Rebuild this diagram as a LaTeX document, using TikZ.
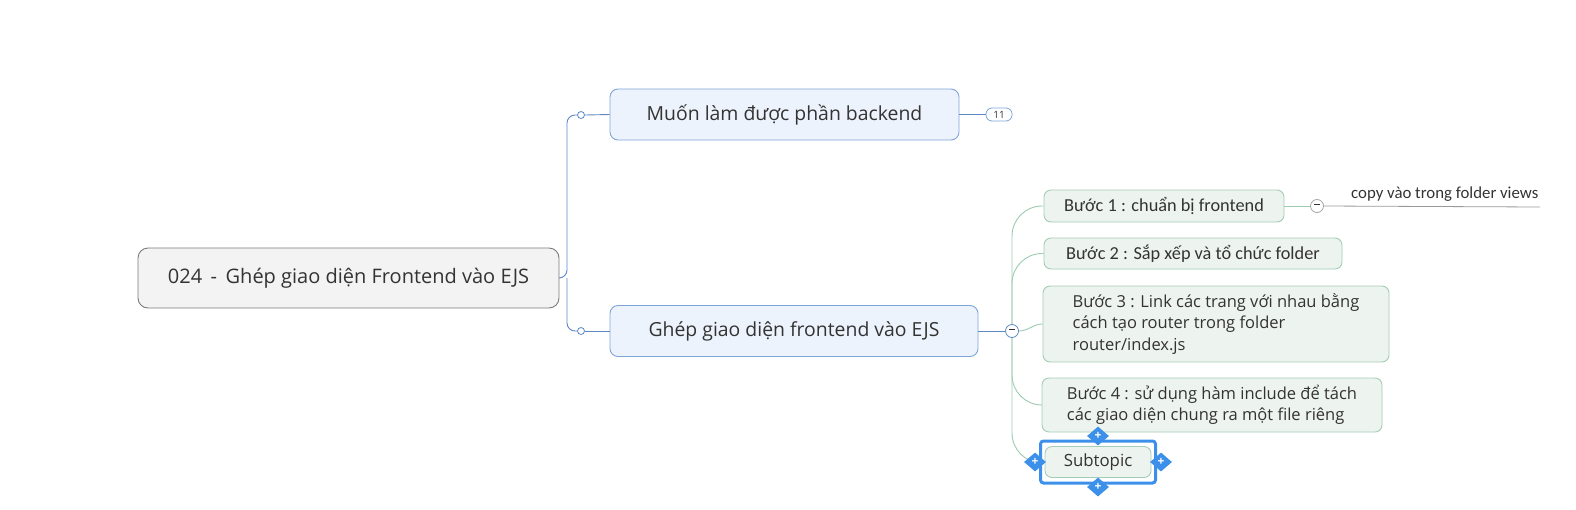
\documentclass[tikz,border=0pt]{standalone}
\usepackage{fontspec}
\setmainfont{Open Sans}
\newfontfamily\calfont{Carlito}
\usetikzlibrary{positioning,shapes.geometric}

\definecolor{rootfill}{HTML}{F3F3F3}
\definecolor{rootline}{HTML}{7A7A7A}
\definecolor{mainfill}{HTML}{EDF3FC}
\definecolor{mainline}{HTML}{7FA5D8}
\definecolor{mainedge}{HTML}{5C88C6}
\definecolor{subfill}{HTML}{EDF3EF}
\definecolor{subline}{HTML}{A3CDB4}
\definecolor{subedge}{HTML}{9CCBB0}
\definecolor{selblue}{HTML}{3C90EA}
\definecolor{txt}{HTML}{333333}

\tikzset{
  roottopic/.style={draw=rootline, fill=rootfill, rounded corners=10pt, line width=0.9pt,
    minimum width=421pt, minimum height=60pt, text=txt, font=\fontsize{20}{24}\selectfont},
  maintopic/.style={draw=mainline, fill=mainfill, rounded corners=8pt, line width=0.9pt,
    minimum height=51pt, text=txt, font=\fontsize{19.4}{23}\selectfont},
  subtopic/.style={draw=subline, fill=subfill, rounded corners=7pt, line width=0.9pt,
    text=txt, align=left, font=\fontsize{16.5}{21.5}\selectfont},
  joint/.style={circle, draw=mainedge, fill=white, line width=0.8pt, minimum size=7pt, inner sep=0pt},
  fold/.style={circle, draw=#1, fill=white, line width=0.8pt, minimum size=13pt, inner sep=0pt,
    text=txt, font=\fontsize{9}{9}\selectfont},
  handle/.style={diamond, fill=selblue, minimum width=22pt, minimum height=19pt, inner sep=0pt,
    text=white, font=\bfseries\fontsize{12}{12}\selectfont},
  mline/.style={draw=mainedge, line width=0.9pt},
  sline/.style={draw=subedge, line width=0.9pt},
}

\begin{document}
\begin{tikzpicture}[x=1pt, y=-1pt]
\useasboundingbox (0,0) rectangle (1576,509);

% Topics
\node[roottopic] (root) at (348.5,278) {024 \,-\, Ghép giao diện Frontend vào EJS};
\node[maintopic, minimum width=349pt] (backend) at (784.5,114.5) {Muốn làm được phần backend};
\node[maintopic, minimum width=368pt] (ejs) at (794,331) {Ghép giao diện frontend vào EJS};
\node[draw=mainline, fill=white, rounded corners=6pt, line width=0.8pt, minimum width=26pt,
  minimum height=13pt, inner sep=0pt, text=txt, font=\fontsize{10}{10}\selectfont] (count) at (999,114.5) {11};

\node[joint] (j1) at (581,115) {};
\node[joint] (j2) at (581,331) {};
\coordinate (fork) at (567,278);

\node[fold=mainedge] (f1) at (1012,331) {\rule[2.5pt]{6pt}{0.8pt}};

% Steps
\node[subtopic, font=\calfont\fontsize{18.3}{21}\selectfont, minimum width=240pt, minimum height=32pt] (s1) at (1164,206) {Bước 1 : chuẩn bị frontend};
\node[subtopic, font=\calfont\fontsize{18.3}{21}\selectfont, minimum width=298pt, minimum height=31pt] (s2) at (1193,253.5) {Bước 2 : Sắp xếp và tổ chức folder};
\node[subtopic, minimum width=346pt, minimum height=76pt] (s3) at (1216,324) {Bước 3 : Link các trang với nhau bằng\\cách tạo router trong folder\\router/index.js};
\node[subtopic, minimum width=340pt, minimum height=54pt] (s4) at (1212,405) {Bước 4 : sử dụng hàm include để tách\\các giao diện chung ra một file riêng};

\node[fold=gray!70] (f2) at (1317,206) {\rule[2.5pt]{6pt}{0.8pt}};
\coordinate (copyend) at (1540,207);
\node[anchor=south west, inner sep=1pt, text=txt, font=\calfont\fontsize{16.8}{19}\selectfont] (copy) at (1350,203) {copy vào trong folder views};

% Connectors
\draw[mline, rounded corners=8pt] (root.east) -- (fork) |- (j1.west);
\draw[mline, rounded corners=8pt] (fork) |- (j2.west);
\draw[mline] (j1.east) -- (backend.west);
\draw[mline] (j2.east) -- (ejs.west);
\draw[mline] (backend.east) -- (count.west);
\draw[mline] (ejs.east) -- (f1.west);

\draw[sline, rounded corners=30pt] (f1.north) |- (s1.west);
\draw[sline, rounded corners=30pt] (f1.north) |- (s2.west);
\draw[sline] (f1.east) to[out=0, in=180] (s3.west);
\draw[sline, rounded corners=30pt] (f1.south) |- (s4.west);
\draw[sline, rounded corners=30pt] (f1.south) |- (1044,463);
\draw[sline] (s1.east) -- (f2.west);
\draw[draw=gray!80, line width=0.8pt] (f2.east) -- (copyend);

% Selected subtopic
\node[draw=selblue, line width=3pt, rounded corners=3pt, minimum width=115pt, minimum height=42pt] (sel) at (1098,462) {};
\node[subtopic, minimum width=106pt, minimum height=31pt, font=\fontsize{16.8}{18}\selectfont] (sub) at (1098,462) {Subtopic};
\node[handle] (hn) at (1098,436) {+};
\node[handle] (hs) at (1098,487) {+};
\node[handle] (hw) at (1035,462) {+};
\node[handle] (he) at (1161,462) {+};

\end{tikzpicture}
\end{document}
